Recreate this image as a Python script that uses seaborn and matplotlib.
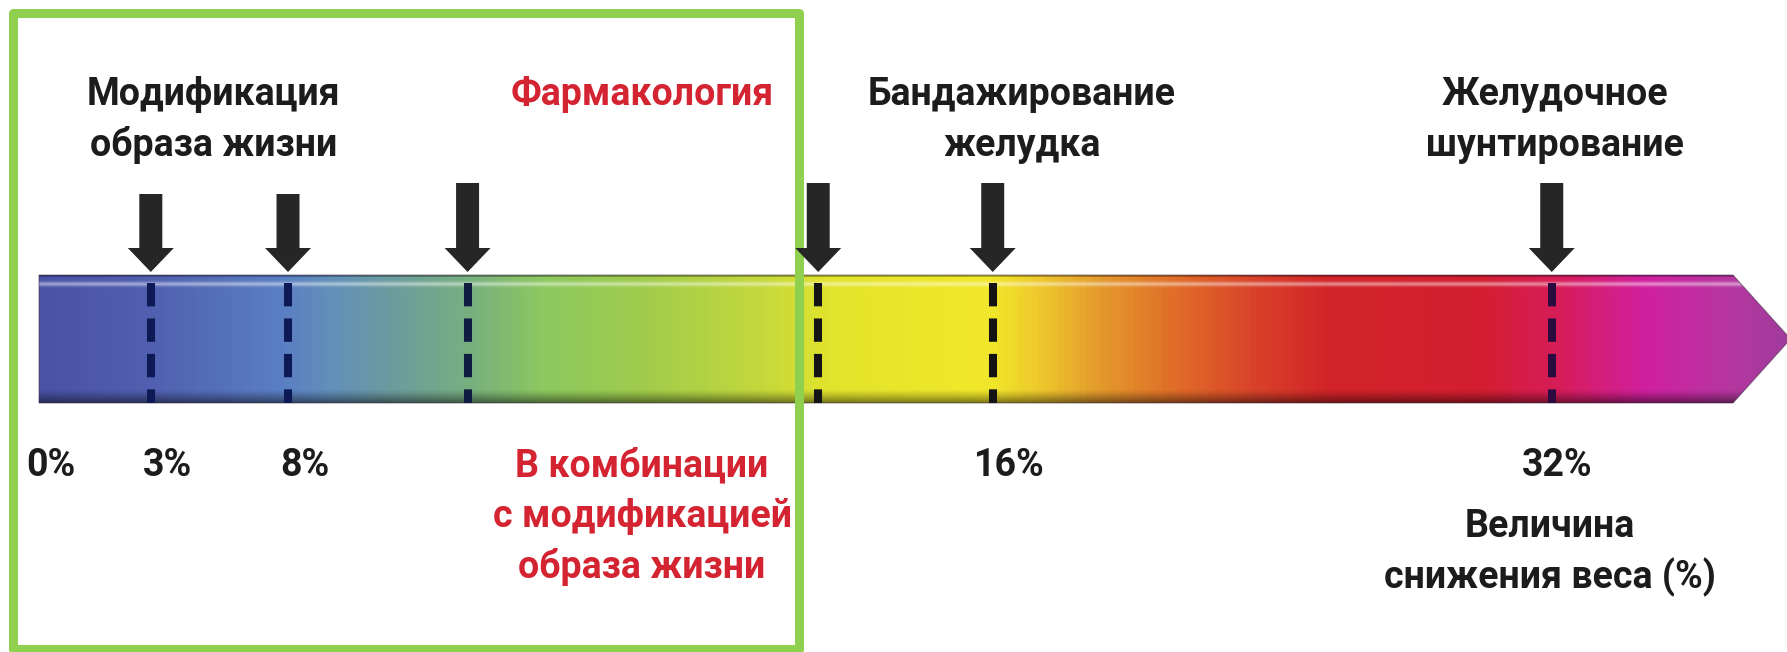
import numpy as np
import pandas as pd
import matplotlib
matplotlib.use("Agg")
import matplotlib.pyplot as plt
import seaborn as sns
from matplotlib.colors import LinearSegmentedColormap, to_rgb
from matplotlib.patches import Polygon, Rectangle

# ---- data -------------------------------------------------------------
# Treatments on a schematic weight-loss scale
# (scale units: 0 = start of the bar, 100 = end of its straight part)
marker_names = ["lifestyle_3", "lifestyle_8", "pharma", "pharma_combo", "banding", "bypass"]
marker_pos = [6.6, 14.7, 25.3, 46.0, 56.3, 89.3]

tick_labels = ["0%", "3%", "8%", "16%", "32%"]
tick_pos = [0.7, 7.6, 15.7, 57.3, 89.6]

header_texts = ["Модификация\nобраза жизни", "Фармакология",
                "Бандажирование\nжелудка", "Желудочное\nшунтирование"]
header_pos = [10.3, 35.6, 58.0, 89.5]
header_colors = ["#1c1c1c", "#d42432", "#1c1c1c", "#1c1c1c"]

combo_text = "В комбинации\nс модификацией\nобраза жизни"
combo_pos = 35.6
axis_title = "Величина\nснижения веса (%)"
axis_title_pos = 89.2

# colour stops of the gradient bar (scale units)
grad_pos = [0, 6.5, 14.2, 17.2, 21.3, 25.4, 29.6, 35.5, 42.6, 46.7, 56.1,
            59.1, 62.6, 67.4, 72.1, 76.2, 85.1, 89.8, 95.1, 100, 103.4]
grad_col = ["#4a52a6", "#5160b0", "#5a7fc4", "#6290b8", "#6e9e9a", "#78b07e",
            "#8cc860", "#a0cc4c", "#c4d83c", "#e2e42c", "#f2e82a", "#eec82c",
            "#e49a2c", "#e06a28", "#d8402a", "#d22428", "#d41e30", "#d81c58",
            "#d020a0", "#b636a0", "#a03c9c"]

# ---- layout (figure pixels) ------------------------------------------
W, H = 1787, 652
X0, SCALE = 39.0, 16.94          # pixel of scale 0, pixels per scale unit
BAR_TOP, BAR_BOT = 275, 403
TIP = 103.4
LINE_SP = 51

sns.set_theme(style="white")
plt.rcParams["font.family"] = ["Roboto", "DejaVu Sans"]

fig = plt.figure(figsize=(W / 100, H / 100), dpi=100)
ax = fig.add_axes([0, 0, 1, 1])
ax.set_xlim(-X0 / SCALE, (W - X0) / SCALE)
ax.set_ylim(H, 0)
ax.axis("off")

# ---- gradient bar with an arrow-shaped end ----------------------------
cmap = LinearSegmentedColormap.from_list(
    "scale", list(zip(np.array(grad_pos) / TIP, [to_rgb(c) for c in grad_col])))
nx, ny = 1400, BAR_BOT - BAR_TOP
xs = np.linspace(0, 1, nx)
rgb = cmap(xs)[:, :3]
yy = np.arange(ny) + 0.5
shade = np.ones(ny)
shade[yy < 2] = 0.72
shade = np.where(yy > ny - 14, 1 - 0.5 * ((yy - (ny - 14)) / 14) ** 1.3, shade)
hl = 0.45 * np.exp(-((yy - 9) / 2.2) ** 2)
img = rgb[None, :, :] * shade[:, None, None]
img = img * (1 - hl[:, None, None]) + hl[:, None, None]
img = np.clip(img, 0, 1)

bar_shape = Polygon([(0, BAR_TOP), (100, BAR_TOP), (TIP, (BAR_TOP + BAR_BOT) / 2),
                     (100, BAR_BOT), (0, BAR_BOT)], closed=True,
                    facecolor="none", edgecolor="#3a2a40", lw=0.8, alpha=0.5)
ax.add_patch(bar_shape)
im = ax.imshow(img, extent=(0, TIP, BAR_BOT, BAR_TOP), origin="upper",
               aspect="auto", interpolation="bilinear")
im.set_clip_path(bar_shape)

# ---- dashed marker lines ---------------------------------------------
lines = pd.DataFrame({
    "marker": np.repeat(marker_names, 2),
    "pos": np.repeat(marker_pos, 2),
    "y": [BAR_TOP + 8, BAR_BOT] * len(marker_pos),
})
line_palette = dict(zip(marker_names,
                        ["#0e1a55", "#0e1a55", "#101c40", "#141414", "#141414", "#2a0c40"]))
sns.lineplot(data=lines, x="pos", y="y", hue="marker", units="marker",
             estimator=None, sort=False, palette=line_palette, legend=False,
             lw=5.8, linestyle=(0, (2.9, 1.5)), ax=ax)
ax.set_xlim(-X0 / SCALE, (W - X0) / SCALE)
ax.set_ylim(H, 0)
ax.axis("off")

# ---- arrows above the bar --------------------------------------------
arrow_top = [194, 194, 183, 183, 183, 183]
for x, top in zip(marker_pos, arrow_top):
    ax.annotate("", xy=(x, BAR_TOP - 3), xytext=(x, top),
                arrowprops=dict(arrowstyle="simple,head_length=2.4,head_width=4.6,tail_width=2.3",
                                mutation_scale=7.2, color="#262626", lw=0,
                                shrinkA=0, shrinkB=0))

# ---- texts -------------------------------------------------------------
def stacked(x, y0, text, color, size=27):
    for i, line in enumerate(text.split("\n")):
        ax.text(x, y0 + i * LINE_SP, line, ha="center", va="baseline",
                fontsize=size, fontweight="bold", color=color)

for txt, x, c in zip(header_texts, header_pos, header_colors):
    stacked(x, 105, txt, c)

for lab, x in zip(tick_labels, tick_pos):
    ax.text(x, 476, lab, ha="center", va="baseline", fontsize=27,
            fontweight="bold", color="#1c1c1c")

stacked(combo_pos, 476, combo_text, "#d42432")
stacked(axis_title_pos, 537, axis_title, "#1c1c1c")

# ---- highlight frame around lifestyle and drug therapy ----------------
fx0, fx1 = (12.5 - X0) / SCALE, (798.5 - X0) / SCALE
ax.add_patch(Rectangle((fx0, 12.5), fx1 - fx0, 636, facecolor="none",
                       edgecolor="#8fd14f", lw=6.5, joinstyle="round"))

fig.savefig("out.png", dpi=100)
